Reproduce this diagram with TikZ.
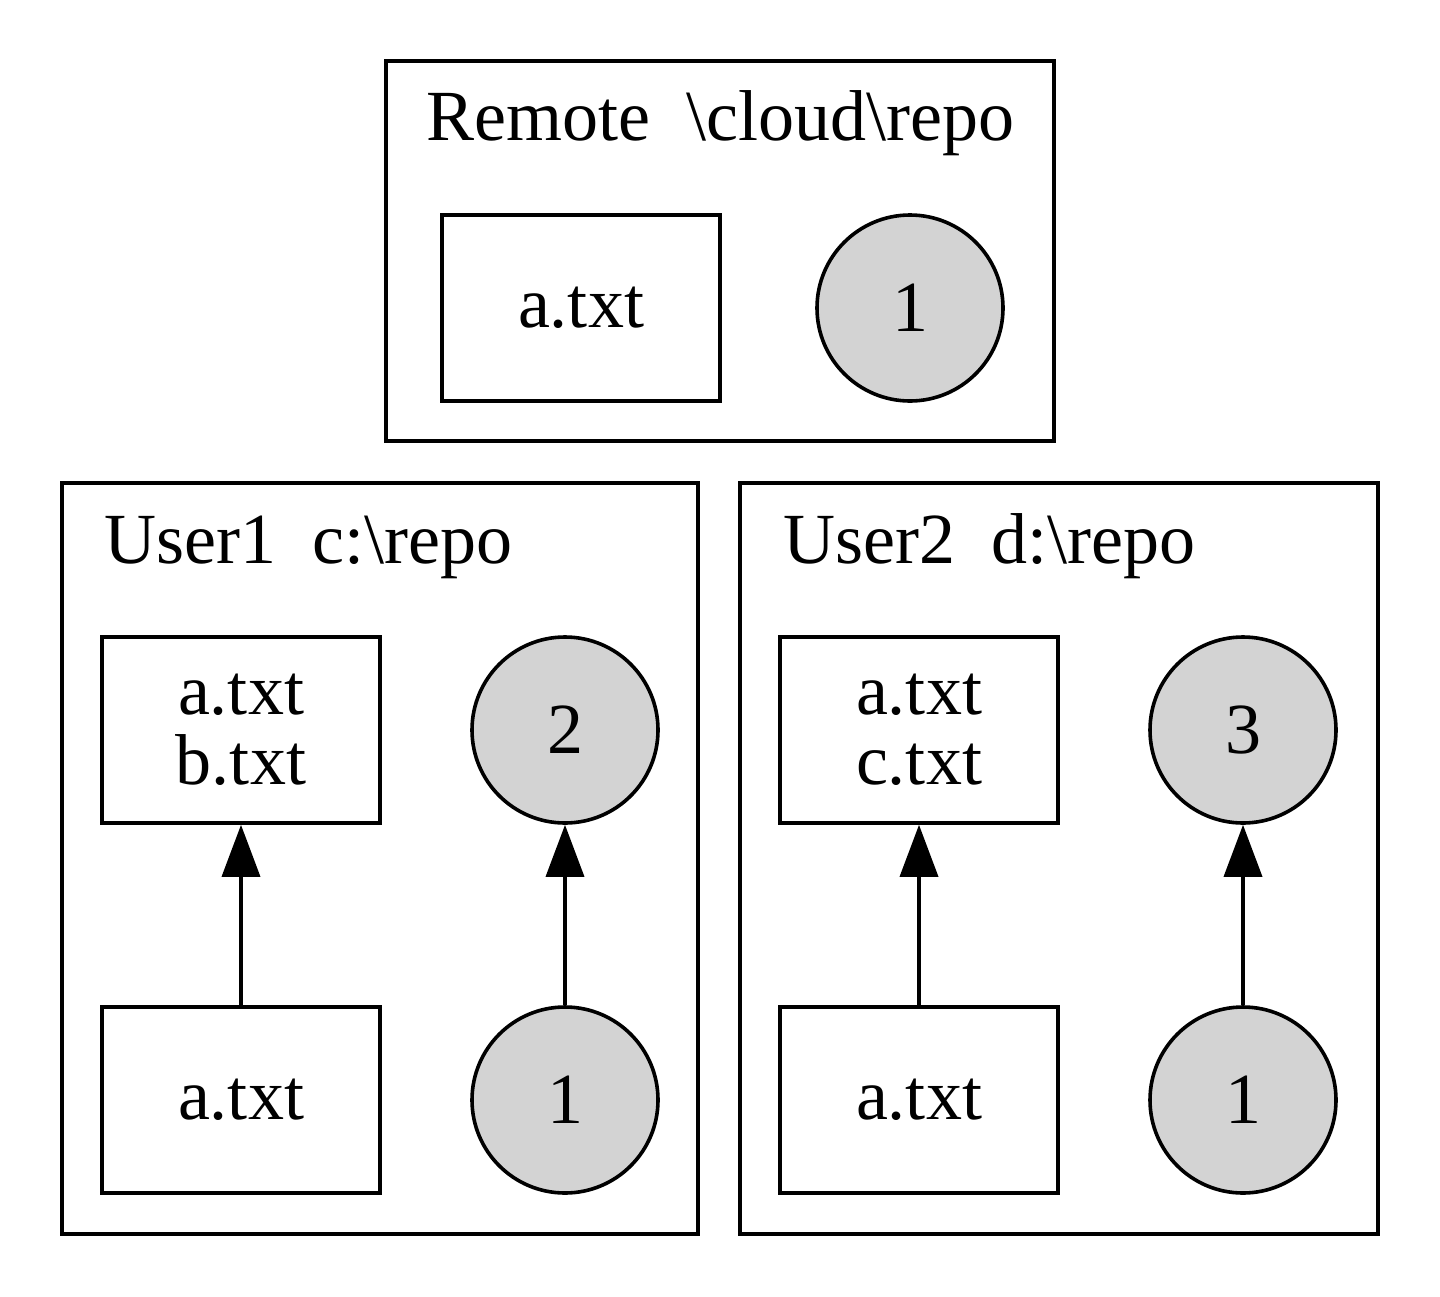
\documentclass[tikz,border=0pt]{standalone}
\usepackage{fontspec}
\setmainfont{Liberation Serif}
\usetikzlibrary{arrows.meta}
\begin{document}
\begin{tikzpicture}[x=0.5pt,y=-0.5pt,
  lw/.style={line width=1.8pt},
  cluster/.style={lw,draw=black},
  filebox/.style={lw,draw=black,rectangle,minimum width=139pt,minimum height=93pt,inner sep=0pt,align=center,font=\fontsize{36}{35}\selectfont},
  commit/.style={lw,draw=black,fill={rgb,255:red,211;green,211;blue,211},circle,minimum size=93pt,inner sep=0pt,font=\fontsize{36}{35}\selectfont},
  title/.style={anchor=base west,inner sep=0pt,font=\fontsize{36}{35}\selectfont},
  edge/.style={lw,-{Triangle[length=26pt,width=19pt]}}]
\useasboundingbox (0,0) rectangle (1440,1296);
% clusters
\draw[cluster] (386,61) rectangle (1054,441);
\draw[cluster] (62,483) rectangle (698,1234);
\draw[cluster] (740,483) rectangle (1378,1234);
% titles
\node[title] (t0) at (426,140) {Remote\ \ \textbackslash cloud\textbackslash repo};
\node[title] (t1) at (104,563) {User1\ \ c:\textbackslash repo};
\node[title] (t2) at (783,563) {User2\ \ d:\textbackslash repo};
% remote
\node[filebox] (r0) at (581,308) {a.txt};
\node[commit] (rc1) at (910,308) {1};
% user1
\node[filebox] (u1f2) at (241,730) {a.txt\\b.txt};
\node[commit] (u1c2) at (565,730) {2};
\node[filebox] (u1f1) at (241,1100) {a.txt};
\node[commit] (u1c1) at (565,1100) {1};
% user2
\node[filebox] (u2f2) at (919,730) {a.txt\\c.txt};
\node[commit] (u2c3) at (1243,730) {3};
\node[filebox] (u2f1) at (919,1100) {a.txt};
\node[commit] (u2c1) at (1243,1100) {1};
% edges
\draw[edge] (u1f1) -- (u1f2);
\draw[edge] (u1c1) -- (u1c2);
\draw[edge] (u2f1) -- (u2f2);
\draw[edge] (u2c1) -- (u2c3);
\end{tikzpicture}
\end{document}
